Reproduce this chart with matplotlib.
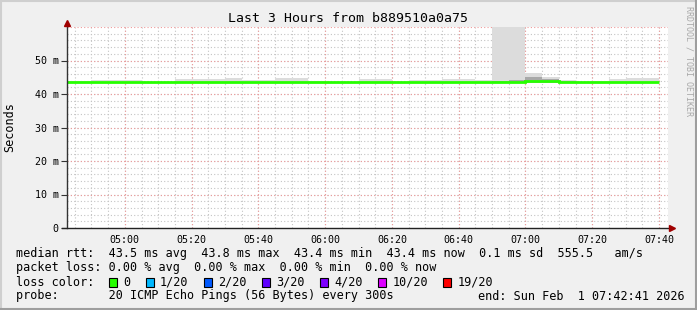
import numpy as np
import matplotlib
matplotlib.use("Agg")
import matplotlib.pyplot as plt
from matplotlib.patches import Rectangle
from matplotlib.lines import Line2D

# ── data (ms) ─────────────────────────────────────────────────────────────────
STEP_START = ["04:40", "04:45", "04:50", "04:55", "05:00", "05:05", "05:10", "05:15", "05:20",
              "05:25", "05:30", "05:35", "05:40", "05:45", "05:50", "05:55", "06:00", "06:05",
              "06:10", "06:15", "06:20", "06:25", "06:30", "06:35", "06:40", "06:45", "06:50",
              "06:55", "07:00", "07:05", "07:10", "07:15", "07:20", "07:25", "07:30", "07:35"]
STEP_MIN = 5
MEDIAN   = [43.5, 43.5, 43.5, 43.5, 43.5, 43.5, 43.5, 43.5, 43.5, 43.5, 43.5, 43.5,
            43.5, 43.5, 43.5, 43.5, 43.5, 43.5, 43.5, 43.5, 43.5, 43.5, 43.5, 43.5,
            43.5, 43.5, 43.6, 43.7, 44.0, 43.9, 43.6, 43.5, 43.5, 43.5, 43.5, 43.5]
SMOKE_LO = [43.2] * 36
SMOKE_HI = [44.0, 44.0, 44.3, 44.3, 44.3, 43.7, 43.7, 44.6, 44.6, 44.6, 44.8, 44.3,
            44.3, 44.9, 44.9, 43.9, 43.7, 43.7, 44.5, 44.5, 43.7, 44.3, 44.3, 44.5,
            44.4, 44.1, 75.0, 75.0, 46.2, 45.2, 44.3, 43.7, 44.0, 44.5, 44.9, 44.9]
SMOKE_MID = [np.nan] * 26 + [43.9, 44.3, 45.2, 44.5, 44.0] + [np.nan] * 5

Y_TICKS  = [0, 10, 20, 30, 40, 50]
X_TICKS  = ["05:00", "05:20", "05:40", "06:00", "06:20", "06:40", "07:00", "07:20", "07:40"]
T_START, T_END = "04:42:41", "07:42:41"

LEGEND_LINES = [
    "median rtt:  43.5 ms avg  43.8 ms max  43.4 ms min  43.4 ms now  0.1 ms sd  555.5   am/s",
    "packet loss: 0.00 % avg  0.00 % max  0.00 % min  0.00 % now",
    "loss color:",
    "probe:       20 ICMP Echo Pings (56 Bytes) every 300s",
]
LOSS_LABELS = ["0", "1/20", "2/20", "3/20", "4/20", "10/20", "19/20"]
LOSS_COLORS = ["#26ff00", "#00b8ff", "#0059ff", "#5e00ff", "#7e00ff", "#dd00ff", "#ff0000"]
END_TEXT = "end: Sun Feb  1 07:42:41 2026"
TITLE = "Last 3 Hours from b889510a0a75"


def to_min(s):
    p = [int(v) for v in s.split(":")]
    return p[0] * 60 + p[1] + (p[2] / 60 if len(p) > 2 else 0)


W, H = 697, 310
MONO = "DejaVu Sans Mono"
fig = plt.figure(figsize=(W / 100, H / 100), dpi=100, facecolor="#f0f0f0")


def px(x, y):
    return x / W, 1 - y / H


# plot area 67..668 x 27..228
ax = fig.add_axes([67 / W, (H - 228) / H, 601 / W, 201 / H])
ax.set_facecolor("white")
for s in ax.spines.values():
    s.set_visible(False)

x0, x1 = to_min(T_START), to_min(T_END)
ax.set_xlim(x0, x1)
ax.set_ylim(0, 60)

# grid (dotted)
DOT = (0, (1, 2))
minor_x = np.arange(np.ceil(x0 / 5) * 5, x1, 5)
for xv in minor_x:
    ax.axvline(xv, color="#c4c4c4", lw=0.8, ls=DOT, zorder=0)
for yv in np.arange(2, 60, 2):
    ax.axhline(yv, color="#c4c4c4", lw=0.8, ls=DOT, zorder=0)
xt = [to_min(t) for t in X_TICKS]
for xv in xt:
    ax.axvline(xv, color="#ee9a9a", lw=0.8, ls=DOT, zorder=0.5)
for yv in Y_TICKS[1:] + [60]:
    ax.axhline(yv, color="#ee9a9a", lw=0.8, ls=DOT, zorder=0.5)

# smoke + median
edges = np.array([to_min(t) for t in STEP_START] + [to_min(STEP_START[-1]) + STEP_MIN])
ax.stairs(SMOKE_HI, edges, baseline=SMOKE_LO, fill=True, color="#dcdcdc", zorder=1)
mid = np.array(SMOKE_MID)
ok = ~np.isnan(mid)
ax.fill_between(np.repeat(edges, 2)[1:-1], np.repeat(SMOKE_LO, 2),
                np.repeat(np.where(ok, mid, SMOKE_LO), 2), color="#a8a8a8", lw=0, zorder=1.2)
ax.stairs(MEDIAN, edges, baseline=None, color="#26ff00", lw=2.0, zorder=2)

# ticks
ax.set_yticks(Y_TICKS)
ax.set_yticklabels([f"{v} m" if v else "0" for v in Y_TICKS], family=MONO, fontsize=7.2)
ax.set_xticks(xt)
ax.set_xticklabels(X_TICKS, family=MONO, fontsize=7.2)
ax.tick_params(axis="y", length=4, width=0.8, color="#333333", pad=2)
ax.tick_params(axis="x", length=0, pad=5)

# axes lines with arrows
ax.plot([0, 0], [0, 1 + 4 / 201], transform=ax.transAxes, color="#333333", lw=1, clip_on=False, zorder=3)
ax.plot([-5 / 601, 1 + 2 / 601], [0, 0], transform=ax.transAxes, color="#222222", lw=1, clip_on=False, zorder=3)
ax.plot([0], [1 + 4 / 201], marker="^", ms=4.5, color="#a00000", transform=ax.transAxes, clip_on=False, zorder=4)
ax.plot([1 + 4 / 601], [0], marker=">", ms=4.5, color="#a00000", transform=ax.transAxes, clip_on=False, zorder=4)

fig.text(*px(10, 127), "Seconds", family=MONO, fontsize=8.5, rotation=90, ha="center", va="center")

# title + watermark
fig.text(*px(348, 19), TITLE, family=MONO, fontsize=9.5, ha="center", va="center")
fig.text(*px(689, 61), "RRDTOOL / TOBI OETIKER", family=MONO, fontsize=6.0, color="#a8a8a8",
         rotation=270, ha="center", va="center")

# legend text
CW = 7.13
rows_y = [254, 268, 282, 296]
for line, yy in zip(LEGEND_LINES, rows_y):
    fig.text(*px(16, yy), line, family=MONO, fontsize=8.5, ha="left", va="center")
fig.text(*px(478, 296), END_TEXT, family=MONO, fontsize=8.5, ha="left", va="center")

bx = 109
for lab, col in zip(LOSS_LABELS, LOSS_COLORS):
    fig.add_artist(Rectangle(px(bx, 286.5), 8 / W, 9 / H, transform=fig.transFigure,
                             facecolor=col, edgecolor="black", lw=0.8))
    fig.text(*px(bx + 14.5, 282), lab, family=MONO, fontsize=8.5, ha="left", va="center")
    bx = bx + 14.5 + len(lab) * CW + 15

# frame shading
fig.add_artist(Line2D([0, 1], [1 - 1 / H] * 2, transform=fig.transFigure, color="#cfcfcf", lw=1.5))
fig.add_artist(Line2D([1 / W] * 2, [0, 1], transform=fig.transFigure, color="#cfcfcf", lw=1.5))
fig.add_artist(Line2D([0, 1], [1 / H] * 2, transform=fig.transFigure, color="#9e9e9e", lw=1.5))
fig.add_artist(Line2D([1 - 1 / W] * 2, [0, 1], transform=fig.transFigure, color="#9e9e9e", lw=1.5))

fig.savefig("out.png", dpi=100, facecolor=fig.get_facecolor())
